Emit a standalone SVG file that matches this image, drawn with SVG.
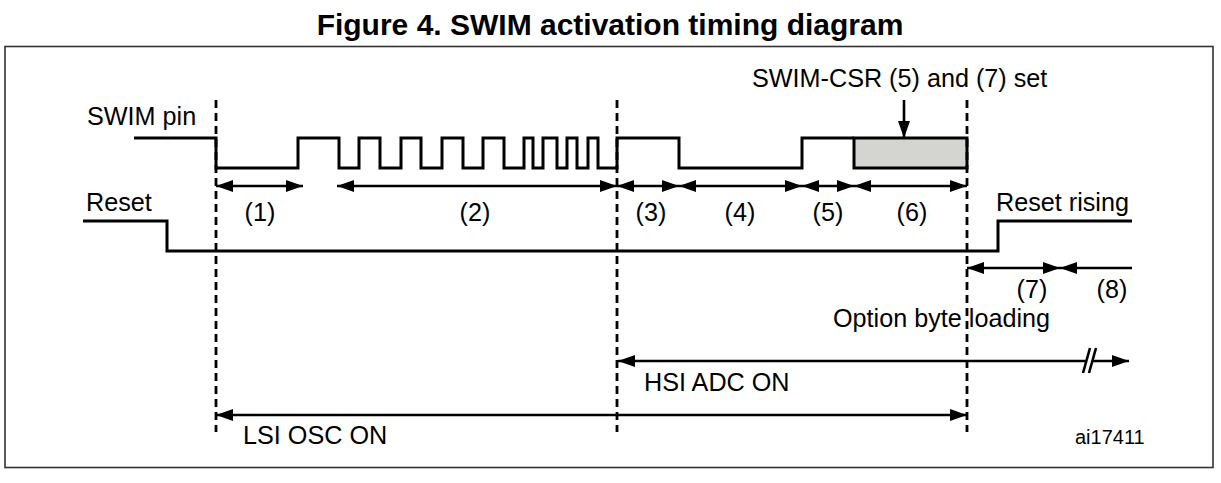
<svg xmlns="http://www.w3.org/2000/svg" width="1221" height="483" viewBox="0 0 1221 483">
  <style>
    .t { font-family: "Liberation Sans", Arial, sans-serif; font-size: 25.2px; fill: #000; }
    .c { text-anchor: middle; }
    .title { font-family: "Liberation Sans", Arial, sans-serif; font-size: 30px; font-weight: bold; fill: #000; text-anchor: middle; }
    .sig { fill: none; stroke: #000; stroke-width: 3; stroke-linejoin: miter; }
    .dash { fill: none; stroke: #000; stroke-width: 2.8; stroke-dasharray: 8 5; }
    .dim { fill: none; stroke: #000; stroke-width: 2.6; }
    .d2 { marker-start: url(#ah); marker-end: url(#ah); }
  </style>
  <defs>
    <marker id="ah" markerUnits="userSpaceOnUse" markerWidth="18" markerHeight="13" refX="17" refY="6" orient="auto-start-reverse">
      <path d="M0,0 L17,6 L0,12 Z" fill="#000"/>
    </marker>
  </defs>
  <rect width="1221" height="483" fill="#fff"/>
  <text class="title" x="610" y="35">Figure 4. SWIM activation timing diagram</text>
  <rect id="frame" x="5" y="46.5" width="1208" height="421" fill="none" stroke="#333" stroke-width="1.6"/>

  <g id="swim-pin">
    <text class="t" x="87" y="125">SWIM pin</text>
    <path class="sig" d="M134,138 H216 V168 H298 V138 H339 V168 H359 V138 H380 V168 H401 V138 H421 V168 H442 V138 H463 V168 H483 V138 H504 V168 H524 V138 H533 V168 H543 V138 H557 V168 H567 V138 H577 V168 H588 V138 H598 V168 H617 V138 H679 V168 H802 V138 H854"/>
    <rect x="854" y="138" width="113" height="30" fill="#d4d4d0" stroke="#000" stroke-width="3"/>
  </g>

  <g id="reset">
    <text class="t" x="86" y="211">Reset</text>
    <path class="sig" d="M83,221 H167 V251 H998 V221 H1132"/>
    <text class="t" x="996" y="211">Reset rising</text>
  </g>

  <g id="markers">
    <line class="dash" x1="216" y1="100" x2="216" y2="432"/>
    <line class="dash" x1="617" y1="100" x2="617" y2="432"/>
    <line class="dash" x1="967" y1="100" x2="967" y2="432"/>
  </g>

  <g id="connectors">
    <line class="dim d2" x1="216" y1="186" x2="303" y2="186"/>
    <line class="dim d2" x1="337" y1="186" x2="617" y2="186"/>
    <line class="dim d2" x1="617" y1="186" x2="679" y2="186"/>
    <line class="dim d2" x1="679" y1="186" x2="802" y2="186"/>
    <line class="dim d2" x1="802" y1="186" x2="854" y2="186"/>
    <line class="dim d2" x1="854" y1="186" x2="967" y2="186"/>
    <line class="dim d2" x1="967" y1="268" x2="1060" y2="268"/>
    <line class="dim" x1="1060" y1="268" x2="1132" y2="268" style="marker-start:url(#ah)"/>
    <line class="dim" x1="618" y1="361" x2="1086" y2="361" style="marker-start:url(#ah)"/>
    <line class="dim" x1="1092" y1="361" x2="1129" y2="361" style="marker-end:url(#ah)"/>
    <line x1="1083" y1="373" x2="1090" y2="348" stroke="#000" stroke-width="2.6"/>
    <line x1="1089" y1="373" x2="1096" y2="348" stroke="#000" stroke-width="2.6"/>
    <line class="dim d2" x1="216" y1="415" x2="967" y2="415"/>
    <line class="dim" x1="904" y1="100" x2="904" y2="138" style="marker-end:url(#ah)"/>
  </g>

  <g id="labels">
    <text class="t" x="752" y="87">SWIM-CSR (5) and (7) set</text>
    <text class="t c" x="260" y="221">(1)</text>
    <text class="t c" x="475" y="221">(2)</text>
    <text class="t c" x="651" y="221">(3)</text>
    <text class="t c" x="740" y="221">(4)</text>
    <text class="t c" x="828" y="221">(5)</text>
    <text class="t c" x="912" y="221">(6)</text>
    <text class="t c" x="1032" y="298">(7)</text>
    <text class="t c" x="1112" y="298">(8)</text>
    <text class="t" x="833" y="327">Option byte loading</text>
    <text class="t" x="644" y="391">HSI ADC ON</text>
    <text class="t" x="243" y="444">LSI OSC ON</text>
    <text class="t" x="1075" y="444" style="font-size:20px">ai17411</text>
  </g>
</svg>
